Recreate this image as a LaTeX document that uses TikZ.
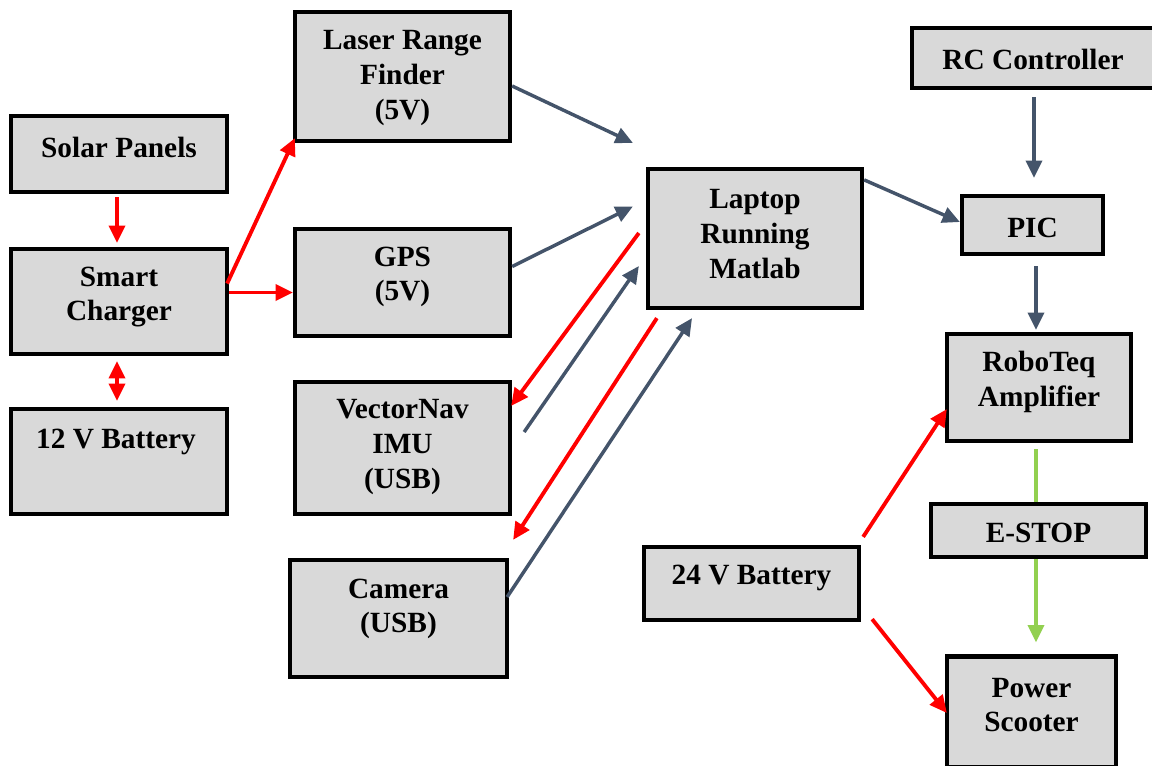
\documentclass[tikz,border=0pt]{standalone}
\usepackage{fontspec}
\setmainfont{Liberation Serif}
\usetikzlibrary{arrows.meta,calc}
\definecolor{boxfill}{HTML}{D9D9D9}
\definecolor{pwr}{HTML}{FF0000}
\definecolor{sig}{HTML}{44546A}
\definecolor{stopg}{HTML}{92D050}
\tikzset{
  box/.style 2 args={draw=black, line width=3.2pt, fill=boxfill,
    minimum width=#1*0.75pt, minimum height=#2*0.75pt, inner sep=0pt},
  lbl/.style={font=\fontsize{22}{26}\selectfont\bfseries, align=center, inner sep=0pt},
  tipa/.style={-{Triangle[length=13pt,width=12pt]}},
  redarrow/.style={draw=pwr, line width=2.9pt, tipa},
  sigarrow/.style={draw=sig, line width=2.6pt, tipa},
  greenline/.style={draw=stopg, line width=2.6pt},
}
\begin{document}
\begin{tikzpicture}[x=0.75pt,y=-0.75pt]
\useasboundingbox (0,0) rectangle (1152,765);
% boxes
\node[box={216}{76}]  (solar)   at (119,154) {};
\node[box={216}{105}] (smart)   at (119,301.5) {};
\node[box={216}{105}] (bat12)   at (119,461.5) {};
\node[box={215}{129}] (laser)   at (402.5,76.5) {};
\node[box={215}{107}] (gps)     at (402.5,282.5) {};
\node[box={215}{132}] (imu)     at (402.5,448) {};
\node[box={217}{117}] (cam)     at (398.5,618.5) {};
\node[box={214}{139}] (laptop)  at (755,238.5) {};
\node[box={242}{60}]  (rc)      at (1033,58) {};
\node[box={141}{58}]  (pic)     at (1032.5,225) {};
\node[box={184}{107}] (robo)    at (1039,387.5) {};
\node[box={215}{53}]  (estop)   at (1038.5,530.5) {};
\node[box={215}{73}]  (bat24)   at (751.5,583.5) {};
\node[box={169}{111}] (scooter) at (1031.5,712) {};
% texts
\node[lbl] (solar-t)   at (119,147) {Solar Panels};
\node[lbl] (smart-t)   at (119,297) {Smart\\Charger};
\node[lbl] (bat12-t)   at (116,442) {12 V Battery};
\node[lbl] (laser-t)   at (402.5,78) {Laser Range\\Finder\\(5V)};
\node[lbl] (gps-t)     at (402.5,277) {GPS\\(5V)};
\node[lbl] (imu-t)     at (402.5,447) {VectorNav\\IMU\\(USB)};
\node[lbl] (cam-t)     at (398.5,609) {Camera\\(USB)};
\node[lbl] (laptop-t)  at (755,234) {Laptop\\Running\\Matlab};
\node[lbl] (rc-t)      at (1033,59) {RC Controller};
\node[lbl] (pic-t)     at (1032.5,228) {PIC};
\node[lbl] (robo-t)    at (1039,382) {RoboTeq\\Amplifier};
\node[lbl] (estop-t)   at (1038.5,533) {E-STOP};
\node[lbl] (bat24-t)   at (751.5,578) {24 V Battery};
\node[lbl] (scooter-t) at (1031.5,705) {Power\\Scooter};
% power connectors
\draw[redarrow] ($(solar.south)+(-2,3)$) -- ($(smart.north)+(-2,-4)$);
\draw[redarrow, {Triangle[length=13pt,width=12pt]}-{Triangle[length=13pt,width=12pt]}]
  ($(smart.south)+(-2,5)$) -- ($(bat12.north)+(-2,-6)$);
\draw[redarrow] ($(smart.east)+(-2,-18)$) -- ($(laser.south west)+(2,-5)$);
\draw[redarrow] ($(smart.east)+(0,-9)$) -- ($(gps.west)+(0,10)$);
\draw[redarrow] ($(laptop.west)+(-7,-5.5)$) -- ($(imu.north east)+(-1,26)$);
\draw[redarrow] ($(laptop.south west)+(11,8)$) -- ($(cam.north east)+(4,-18)$);
\draw[redarrow] ($(bat24.north east)+(2,-8)$) -- ($(robo.west)+(2,21.5)$);
\draw[redarrow] ($(bat24.south east)+(11,-3)$) -- ($(scooter.west)+(2,1)$);
% signal connectors
\draw[sigarrow] ($(laser.east)+(0,9.5)$) -- ($(laptop.north west)+(-13,-24)$);
\draw[sigarrow] ($(gps.east)+(0,-16)$) -- ($(laptop.west)+(-13,-32)$);
\draw[sigarrow] ($(imu.east)+(12,-16)$) -- ($(laptop.west)+(-7,27.5)$);
\draw[sigarrow] ($(cam.east)+(-2,-21.5)$) -- ($(laptop.south)+(-63,8)$);
\draw[sigarrow] ($(laptop.north east)+(0,13)$) -- ($(pic.west)+(0,-3)$);
\draw[sigarrow] ($(rc.south)+(1,7)$) -- ($(pic.north)+(1.5,-16)$);
\draw[sigarrow] ($(pic.south)+(3.5,10)$) -- ($(robo.north)+(-3,-2)$);
% e-stop chain
\draw[greenline] ($(robo.south)+(-3,6)$) -- ($(estop.north)+(-2.5,0)$);
\draw[greenline, tipa] ($(estop.south)+(-2.5,0)$) -- ($(scooter.north)+(4.5,-12)$);
\end{tikzpicture}
\end{document}
